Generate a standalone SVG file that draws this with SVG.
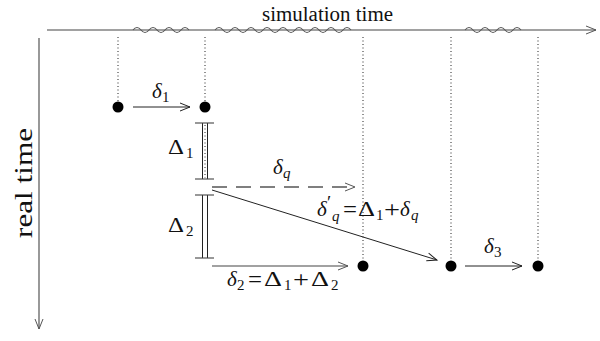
<svg xmlns="http://www.w3.org/2000/svg" width="600" height="341" viewBox="0 0 600 341">
<defs>
<marker id="arr" markerUnits="userSpaceOnUse" markerWidth="12" markerHeight="10" refX="10" refY="4" orient="auto" overflow="visible">
<path d="M0,0 L10,4 L0,8" fill="none" stroke="#222" stroke-width="1"/>
</marker>
<marker id="arrg" markerUnits="userSpaceOnUse" markerWidth="12" markerHeight="10" refX="10" refY="4" orient="auto" overflow="visible">
<path d="M0,0 L10,4 L0,8" fill="none" stroke="#555" stroke-width="1"/>
</marker>
</defs>
<style>
.ln{stroke:#222;stroke-width:1;fill:none}
.ax{stroke:#444;stroke-width:1.1;fill:none}
.dot{stroke:#222;stroke-width:1;stroke-dasharray:1 2.5;fill:none}
.wv{stroke:#555;stroke-width:1.1;fill:none}
.pt{fill:#000}
.t{font-family:"Liberation Serif",serif;fill:#111}
.m{font-family:"Liberation Serif",serif;font-size:21px;fill:#111}
.i{font-style:italic}
.s{font-size:15px}
.op{font-size:24px}
</style>
<rect width="600" height="341" fill="#fff"/>

<g id="axes">
<line class="ax" x1="47" y1="30" x2="596" y2="30" marker-end="url(#arrg)"/>
<line class="ax" x1="39" y1="38" x2="39" y2="329" marker-end="url(#arrg)"/>
<path class="wv" d="M133,30 q4,-5 8,0 t8,0 t8,0 t8,0 t8,0 t8,0 t8,0"/>
<path class="wv" d="M215,30 q4,-5 8,0 t8,0 t8,0 t8,0 t8,0 t8,0 t8,0 t8,0 t8,0 t8,0 t8,0 t8,0 t8,0 t8,0 t8,0 t8,0 t8,0"/>
<path class="wv" d="M465,30 q4,-5 8,0 t8,0 t8,0 t8,0 t8,0 t8,0 t8,0"/>
<text class="t" x="262" y="21" font-size="20" textLength="131" lengthAdjust="spacingAndGlyphs">simulation time</text>
<text class="t" font-size="25" transform="translate(32,238) rotate(-90)" textLength="110" lengthAdjust="spacingAndGlyphs">real time</text>
</g>

<g id="guides">
<line class="dot" x1="118" y1="37" x2="118" y2="101"/>
<line class="dot" x1="205" y1="37" x2="205" y2="101"/>
<line class="dot" x1="363" y1="37" x2="363" y2="259"/>
<line class="dot" x1="451" y1="37" x2="451" y2="259"/>
<line class="dot" x1="538" y1="37" x2="538" y2="259"/>
</g>

<g id="e1"><circle class="pt" cx="118" cy="107" r="5.5"/></g>
<g id="e2"><circle class="pt" cx="205" cy="107" r="5.5"/></g>
<g id="e3"><circle class="pt" cx="363" cy="266" r="5.5"/></g>
<g id="e4"><circle class="pt" cx="451" cy="266" r="5.5"/></g>
<g id="e5"><circle class="pt" cx="538" cy="266" r="5.5"/></g>

<g id="bar1">
<line class="ln" x1="202.5" y1="123" x2="202.5" y2="179"/>
<line class="ln" x1="207.5" y1="123" x2="207.5" y2="179"/>
<line class="dot" x1="205" y1="125" x2="205" y2="178"/>
<line class="ax" x1="195" y1="123" x2="214" y2="123"/>
<line class="ax" x1="195" y1="179" x2="214" y2="179"/>
<text class="m" x="168" y="154" textLength="16" lengthAdjust="spacingAndGlyphs">Δ</text>
<text class="m s" x="186" y="158">1</text>
</g>

<g id="bar2">
<line class="ln" x1="202.5" y1="195" x2="202.5" y2="258"/>
<line class="ln" x1="207.5" y1="195" x2="207.5" y2="258"/>
<line class="ax" x1="195" y1="195" x2="214" y2="195"/>
<line class="ax" x1="195" y1="258" x2="214" y2="258"/>
<text class="m" x="168" y="232" textLength="16" lengthAdjust="spacingAndGlyphs">Δ</text>
<text class="m s" x="186" y="236">2</text>
</g>

<g id="connectors">
<line class="ln" x1="133" y1="107" x2="190" y2="107" marker-end="url(#arr)"/>
<line x1="212" y1="187" x2="355" y2="187" stroke="#555" stroke-width="1.3" stroke-dasharray="15 9" marker-end="url(#arrg)"/>
<line class="ln" x1="212" y1="190" x2="437" y2="260" marker-end="url(#arr)"/>
<line class="ax" x1="212" y1="266" x2="348" y2="266" marker-end="url(#arrg)"/>
<line class="ln" x1="465" y1="266" x2="522" y2="266" marker-end="url(#arr)"/>
</g>

<g id="labels">
<text class="m" x="152" y="98"><tspan class="i">δ</tspan><tspan class="s" x="162" y="102">1</tspan></text>
<text class="m" x="273" y="174"><tspan class="i">δ</tspan><tspan class="s i" x="283" y="178">q</tspan></text>
<text class="m" x="317" y="216"><tspan class="i">δ</tspan><tspan font-size="19" x="327" y="209">′</tspan><tspan class="s i" x="332" y="221">q</tspan><tspan class="op" x="343" y="217" textLength="14" lengthAdjust="spacingAndGlyphs">=</tspan><tspan x="358" y="216" textLength="17" lengthAdjust="spacingAndGlyphs">Δ</tspan><tspan class="s" x="376" y="220">1</tspan><tspan class="op" x="384" y="217" textLength="16" lengthAdjust="spacingAndGlyphs">+</tspan><tspan class="i" x="400" y="216">δ</tspan><tspan class="s i" x="411" y="220">q</tspan></text>
<text class="m" x="227" y="286"><tspan class="i">δ</tspan><tspan class="s" x="237" y="290">2</tspan><tspan class="op" x="248" y="287" textLength="14" lengthAdjust="spacingAndGlyphs">=</tspan><tspan x="264" y="286" textLength="18" lengthAdjust="spacingAndGlyphs">Δ</tspan><tspan class="s" x="284" y="290">1</tspan><tspan class="op" x="293" y="287" textLength="16" lengthAdjust="spacingAndGlyphs">+</tspan><tspan x="311" y="286" textLength="18" lengthAdjust="spacingAndGlyphs">Δ</tspan><tspan class="s" x="331" y="290">2</tspan></text>
<text class="m" x="484" y="253"><tspan class="i">δ</tspan><tspan class="s" x="494" y="257">3</tspan></text>
</g>
</svg>
